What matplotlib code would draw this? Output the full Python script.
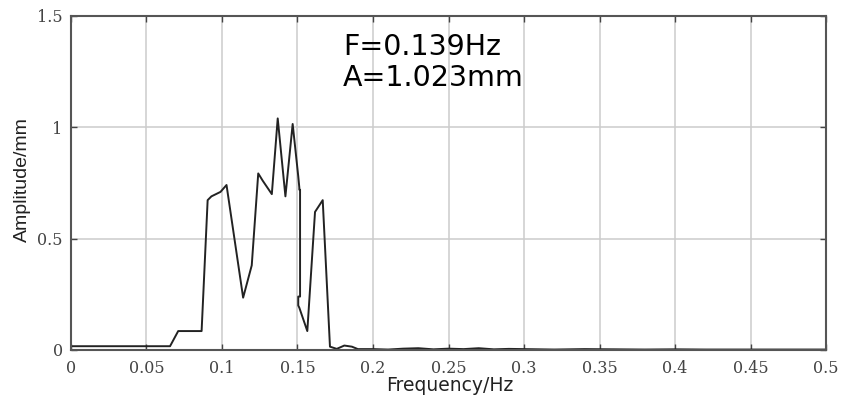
import numpy as np
import matplotlib.pyplot as plt

# spectrum
freq = [0.0, 0.0656, 0.071, 0.0865, 0.0905, 0.093, 0.096, 0.099, 0.103, 0.114,
        0.1197, 0.124, 0.127, 0.130, 0.133, 0.1369, 0.142, 0.1468, 0.1505,
        0.1512, 0.1512, 0.1517, 0.1517, 0.1505, 0.1505, 0.1512, 0.1565,
        0.1616, 0.1667, 0.1715, 0.176, 0.181, 0.186, 0.19, 0.2, 0.21, 0.22,
        0.23, 0.24, 0.25, 0.26, 0.27, 0.28, 0.29, 0.3, 0.32, 0.34, 0.36,
        0.38, 0.4, 0.42, 0.44, 0.46, 0.48, 0.5]
amp = [0.017, 0.017, 0.085, 0.085, 0.673, 0.69, 0.70, 0.71, 0.741, 0.235,
       0.38, 0.793, 0.76, 0.73, 0.70, 1.04, 0.69, 1.015, 0.78,
       0.73, 0.72, 0.72, 0.24, 0.24, 0.20, 0.19, 0.085,
       0.62, 0.673, 0.015, 0.005, 0.02, 0.015, 0.004, 0.004, 0.002, 0.006,
       0.008, 0.003, 0.006, 0.004, 0.008, 0.003, 0.005, 0.004, 0.002, 0.004,
       0.003, 0.002, 0.003, 0.002, 0.002, 0.002, 0.002, 0.002]

xticks = [0, 0.05, 0.1, 0.15, 0.2, 0.25, 0.3, 0.35, 0.4, 0.45, 0.5]
xticklabels = ['0', '0.05', '0.1', '0.15', '0.2', '0.25', '0.3', '0.35', '0.4', '0.45', '0.5']
yticks = [0, 0.5, 1, 1.5]
yticklabels = ['0', '0.5', '1', '1.5']
peak_text = ['F=0.139Hz', 'A=1.023mm']

fig = plt.figure(figsize=(8.46, 3.97), dpi=100)
ax = fig.add_axes([0.0839, 0.1184, 0.8925, 0.8413])

ax.plot(freq, amp, color='#222222', linewidth=1.4)

ax.set_xlim(0, 0.5)
ax.set_ylim(0, 1.5)
ax.set_xticks(xticks)
ax.set_xticklabels(xticklabels, family='DejaVu Serif', fontsize=11.5, color='#444444')
ax.set_yticks(yticks)
ax.set_yticklabels(yticklabels, family='DejaVu Serif', fontsize=11.5, color='#444444')
ax.tick_params(axis='x', direction='in', top=True, length=4, width=1, color='#444444', pad=7)
ax.tick_params(axis='y', direction='in', right=True, length=4, width=1, color='#444444', pad=6)
ax.grid(True, color='#cccccc', linewidth=1.1)
for s in ax.spines.values():
    s.set_color('#555555')
    s.set_linewidth(1.5)

fig.text(0.5313, 0.014, 'Frequency/Hz', family='DejaVu Sans', fontsize=13.5,
         ha='center', va='baseline', color='#222222')
fig.text(0.026, 0.5466, 'Amplitude/mm', family='Liberation Sans', fontsize=14,
         rotation=90, ha='center', va='center', color='#222222')

ax.text(0.180, 1.3247, peak_text[0], family='DejaVu Sans', fontsize=20.5,
        va='baseline', ha='left', color='black')
ax.text(0.180, 1.185, peak_text[1], family='DejaVu Sans', fontsize=20.5,
        va='baseline', ha='left', color='black')

fig.savefig('out.png', dpi=100)
